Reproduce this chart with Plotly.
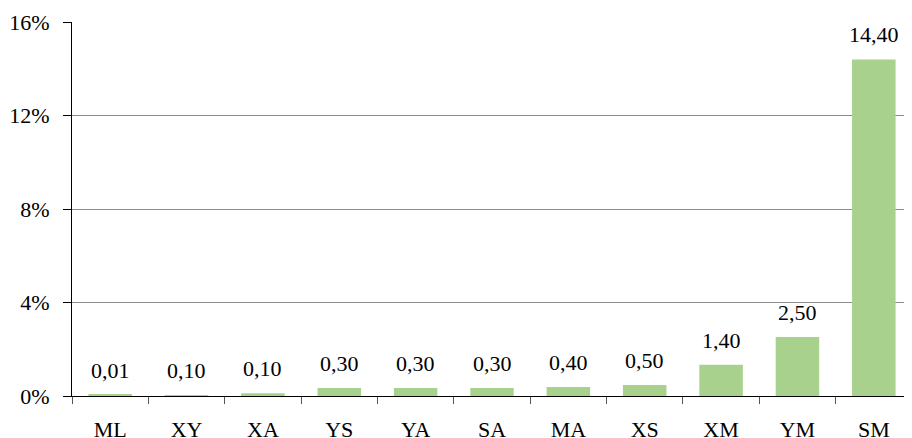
import plotly.graph_objects as go

categories = ["ML", "XY", "XA", "YS", "YA", "SA", "MA", "XS", "XM", "YM", "SM"]
values = [0.06, 0.04, 0.12, 0.34, 0.34, 0.34, 0.38, 0.47, 1.34, 2.52, 14.4]
labels = ["0,01", "0,10", "0,10", "0,30", "0,30", "0,30", "0,40", "0,50", "1,40", "2,50", "14,40"]
ytick_vals = [0, 4, 8, 12, 16]
ytick_text = ["0%", "4%", "8%", "12%", "16%"]

font = "Liberation Serif"

fig = go.Figure()
fig.add_trace(go.Bar(x=categories, y=values, marker=dict(color="#a9d18e", line=dict(width=0)),
                     hoverinfo="skip"))

for c, v, t in zip(categories, values, labels):
    fig.add_annotation(x=c, y=v, text=t, showarrow=False, yanchor="bottom", yshift=10,
                       font=dict(family=font, size=22, color="#000"))

# page body has an 8px default margin; figure sized so that the plot lands where the reference has it
fig.update_layout(
    width=904, height=430,
    margin=dict(l=64, r=0, t=14, b=42),
    paper_bgcolor="white", plot_bgcolor="white",
    bargap=0.43, showlegend=False,
    font=dict(family=font, size=22, color="#000"),
)
fig.update_xaxes(
    automargin=False,
    showline=True, linecolor="#000", linewidth=1.2,
    ticks="outside", ticklen=7, tickcolor="#555", tickson="boundaries",
    tickfont=dict(family=font, size=22, color="#000"),
    ticklabelstandoff=13, showgrid=False,
)
fig.update_yaxes(
    automargin=False,
    range=[0, 16], tickvals=ytick_vals, ticktext=ytick_text,
    showline=True, linecolor="#000", linewidth=1.2,
    ticks="outside", ticklen=8, tickcolor="#000",
    showgrid=True, gridcolor="#8c8c8c", gridwidth=1, zeroline=False,
    tickfont=dict(family=font, size=22, color="#000"),
    ticklabelstandoff=9,
)

fig.write_html("out.html")
